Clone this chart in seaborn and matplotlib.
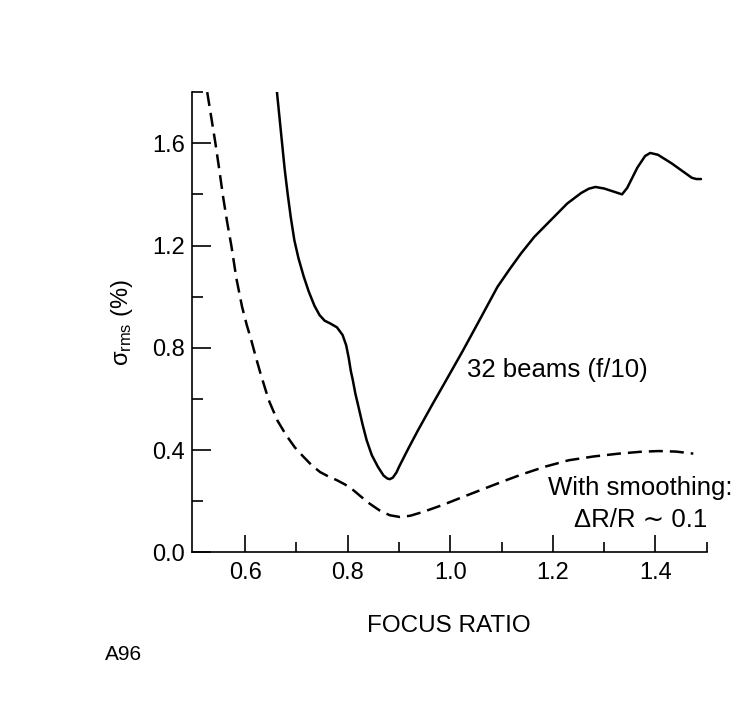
import matplotlib
matplotlib.use("Agg")
import matplotlib.pyplot as plt
from matplotlib.ticker import FixedLocator, FormatStrFormatter
import seaborn as sns
import pandas as pd

# 32 beams (f/10), no smoothing
focus_raw = [0.662, 0.667, 0.672, 0.677, 0.683, 0.689, 0.696, 0.704, 0.714, 0.724,
             0.735, 0.745, 0.755, 0.766, 0.779, 0.790, 0.797, 0.802, 0.806, 0.810,
             0.815, 0.821, 0.829, 0.837, 0.847, 0.859, 0.870, 0.877, 0.882, 0.888,
             0.895, 0.900, 0.918, 0.937, 0.965, 0.992, 1.025, 1.057, 1.092, 1.115,
             1.138, 1.164, 1.196, 1.228, 1.255, 1.270, 1.283, 1.300, 1.320, 1.335,
             1.345, 1.365, 1.380, 1.390, 1.405, 1.432, 1.455, 1.471, 1.480, 1.489]
sigma_raw = [1.80, 1.70, 1.60, 1.50, 1.40, 1.31, 1.22, 1.15, 1.08, 1.02,
             0.965, 0.928, 0.906, 0.895, 0.88, 0.85, 0.81, 0.76, 0.71, 0.673,
             0.62, 0.569, 0.50, 0.438, 0.38, 0.334, 0.300, 0.289, 0.286, 0.292,
             0.312, 0.334, 0.405, 0.477, 0.578, 0.673, 0.790, 0.908, 1.038, 1.105,
             1.169, 1.234, 1.299, 1.364, 1.405, 1.422, 1.429, 1.423, 1.410, 1.400,
             1.425, 1.505, 1.550, 1.562, 1.555, 1.521, 1.488, 1.465, 1.460, 1.460]

# same beams with smoothing, dR/R ~ 0.1
focus_smooth = [0.526, 0.534, 0.542, 0.550, 0.557, 0.565, 0.573, 0.583, 0.594, 0.603,
                0.612, 0.621, 0.630, 0.646, 0.663, 0.680, 0.697, 0.714, 0.730, 0.746,
                0.762, 0.779, 0.795, 0.811, 0.827, 0.843, 0.862, 0.882, 0.902, 0.922,
                0.947, 0.985, 1.024, 1.065, 1.109, 1.140, 1.185, 1.231, 1.280, 1.329,
                1.370, 1.406, 1.440, 1.474]
sigma_smooth = [1.80, 1.70, 1.60, 1.49, 1.39, 1.29, 1.20, 1.07, 0.96, 0.89,
                0.829, 0.762, 0.699, 0.595, 0.515, 0.458, 0.410, 0.373, 0.340, 0.314,
                0.297, 0.282, 0.265, 0.243, 0.216, 0.190, 0.164, 0.145, 0.138, 0.143,
                0.158, 0.185, 0.216, 0.248, 0.282, 0.305, 0.335, 0.360, 0.375, 0.386,
                0.393, 0.396, 0.394, 0.386]

x_major = [0.6, 0.8, 1.0, 1.2, 1.4]
x_minor = [0.7, 0.9, 1.1, 1.3, 1.5]
y_major = [0.0, 0.4, 0.8, 1.2, 1.6]
y_minor = [0.2, 0.6, 1.0, 1.4, 1.8]

sns.set_theme(style="white")
plt.rcParams["font.family"] = ["Liberation Sans", "DejaVu Sans"]
plt.rcParams["mathtext.fontset"] = "custom"
plt.rcParams["mathtext.rm"] = "Liberation Sans"
plt.rcParams["mathtext.it"] = "Liberation Sans"

df_raw = pd.DataFrame({"focus": focus_raw, "sigma": sigma_raw})
df_smooth = pd.DataFrame({"focus": focus_smooth, "sigma": sigma_smooth})

fig = plt.figure(figsize=(7.35, 7.27), dpi=100)
ax = fig.add_axes([0.261, 0.2403, 0.7004, 0.633])

sns.lineplot(data=df_raw, x="focus", y="sigma", ax=ax, color="black",
             linewidth=1.8, sort=False, estimator=None)
sns.lineplot(data=df_smooth, x="focus", y="sigma", ax=ax, color="black",
             linewidth=1.8, sort=False, estimator=None)
ax.lines[1].set_dashes([5.6, 2.8])
for ln in ax.lines:
    ln.set_solid_capstyle("round")
    ln.set_solid_joinstyle("round")

ax.set_xlim(0.496, 1.5)
ax.set_ylim(0.0, 1.8)

for side in ("top", "right"):
    ax.spines[side].set_visible(False)
for side in ("left", "bottom"):
    ax.spines[side].set_color("black")
    ax.spines[side].set_linewidth(1.2)

ax.xaxis.set_major_locator(FixedLocator(x_major))
ax.xaxis.set_minor_locator(FixedLocator(x_minor))
ax.yaxis.set_major_locator(FixedLocator(y_major))
ax.yaxis.set_minor_locator(FixedLocator(y_minor))
ax.xaxis.set_major_formatter(FormatStrFormatter("%.1f"))
ax.yaxis.set_major_formatter(FormatStrFormatter("%.1f"))

ax.tick_params(axis="x", which="both", bottom=True, top=False)
ax.tick_params(axis="y", which="both", left=True, right=False)
ax.tick_params(axis="x", which="major", direction="in", length=12, width=1.2,
               color="black", labelsize=17, pad=7, labelcolor="black")
ax.tick_params(axis="x", which="minor", direction="in", length=7, width=1.2,
               color="black")
ax.tick_params(axis="y", which="major", direction="in", length=14, width=1.2,
               color="black", labelsize=17, pad=5, labelcolor="black")
ax.tick_params(axis="y", which="minor", direction="in", length=8, width=1.2,
               color="black")

ax.set_xlabel("FOCUS RATIO", fontsize=17.5, color="black", labelpad=22)
ax.set_ylabel(r"$\sigma_{\rm rms}$ (%)", fontsize=17, color="black", labelpad=12)

ax.text(1.033, 0.713, "32 beams (f/10)", fontsize=18.5, ha="left", va="center",
        color="black")
ax.text(1.371, 0.253, "With smoothing:", fontsize=18.5, ha="center", va="center",
        color="black")
ax.text(1.371, 0.126, "ΔR/R ∼ 0.1", fontsize=18.5, ha="center", va="center",
        color="black")

fig.text(105 / 735, 1 - 654 / 727, "A96", fontsize=15, ha="left", va="center",
         color="black")

fig.savefig("out.png", dpi=100, facecolor="white")
